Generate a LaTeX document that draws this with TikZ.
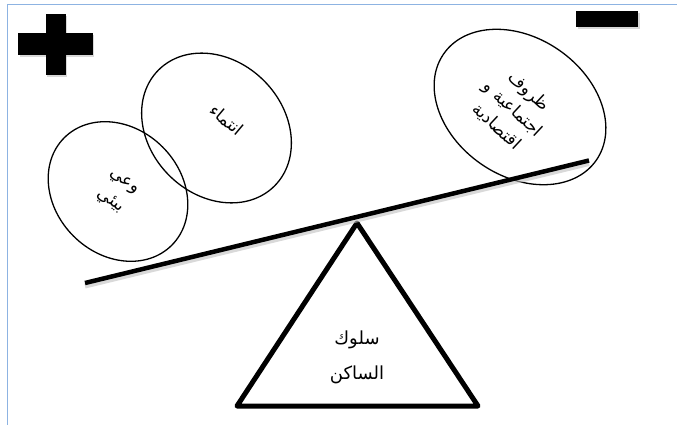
\documentclass[tikz,border=0pt]{standalone}
\usepackage{fontspec}
\newfontfamily\arabicfont[Script=Arabic]{DejaVu Sans}
\TeXXeTstate=1
\usetikzlibrary{shapes.geometric,shadows}
\definecolor{framecol}{RGB}{141,179,226}
\tikzset{
  bubble/.style={draw, ellipse, line width=1.3pt, inner sep=0pt},
  bubbletext/.style={font=\arabicfont\fontsize{17}{24}\selectfont, align=center, inner sep=0pt},
  basetext/.style={font=\arabicfont\fontsize{18}{35}\selectfont, align=center, inner sep=0pt},
  signshadow/.style={fill=black!30, opacity=0.5},
}
\begin{document}
\begin{tikzpicture}[x=1pt,y=-1pt]
\useasboundingbox (0,0) rectangle (677,425);
% page frame
\coordinate (fbl) at (7.3,425);
\coordinate (ftl) at (7.3,4.5);
\coordinate (ftr) at (677,4.5);
\draw[framecol, line width=1pt] (fbl) -- (ftl) -- (ftr);
% plus sign
\fill[signshadow] (47.2,16) rectangle (67.2,77);
\fill[signshadow] (19.8,35.3) rectangle (94.2,57);
\fill[black] (18.3,33.3) rectangle (92.7,55);
\fill[black] (45.7,14) rectangle (65.7,75);
% minus sign
\fill[signshadow] (577.5,12.7) rectangle (639.5,29.3);
\fill[black] (576,10.7) rectangle (638,27.3);
% bubbles
\node[bubble, minimum width=152pt, minimum height=126pt, rotate=-45] (e1) at (118,191.5) {};
\node[bubble, minimum width=164pt, minimum height=134pt, rotate=-45] (e2) at (216.5,128) {};
\node[bubble, minimum width=186pt, minimum height=138pt, rotate=-35] (e3) at (520,107) {};
% beam fulcrum triangle
\coordinate (tl) at (237,406);
\coordinate (tr) at (478,406);
\coordinate (tt) at (357,223);
\draw[line width=5pt, line join=round] (tl) -- (tr) -- (tt) -- cycle;
% beam
\coordinate (bl) at (85,283);
\coordinate (br) at (589,160.5);
\draw[black!25, opacity=0.6, line width=5pt] ([yshift=-3pt]bl) -- ([yshift=-3pt]br);
\draw[line width=4.5pt] (bl) -- (br);
% texts
\node[bubbletext, rotate=-36] (t1) at (117,192) {\beginR وعي\endR\\\beginR بيئي\endR};
\node[bubbletext, rotate=-40] (t2) at (227,120) {\beginR انتماء\endR};
\node[bubbletext, rotate=-43] (t3) at (513,109) {\beginR ظروف\endR\\\beginR اجتماعية و\endR\\\beginR اقتصادية\endR};
\node[basetext] (t4) at (357,357) {\beginR سلوك\endR\\\beginR الساكن\endR};
\end{tikzpicture}
\end{document}
